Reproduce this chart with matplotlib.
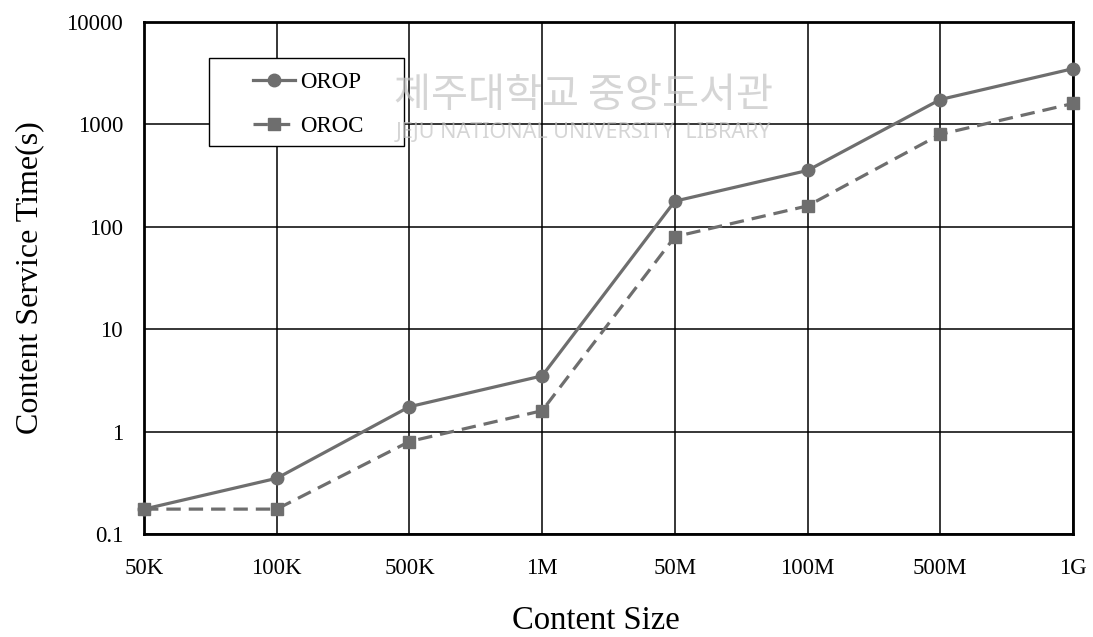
import matplotlib
matplotlib.use("Agg")
import matplotlib.pyplot as plt
from matplotlib.patches import Rectangle

# data
sizes = ["50K", "100K", "500K", "1M", "50M", "100M", "500M", "1G"]
orop = [0.175, 0.35, 1.75, 3.5, 178, 355, 1750, 3500]
oroc = [0.175, 0.175, 0.8, 1.6, 80, 160, 800, 1600]
yticks = [0.1, 1, 10, 100, 1000, 10000]
ytick_labels = ["0.1", "1", "10", "100", "1000", "10000"]

plt.rcParams["font.family"] = ["Liberation Serif", "DejaVu Serif"]

W, H = 1093, 637
fig = plt.figure(figsize=(W / 100, H / 100), dpi=100)
ax = fig.add_axes([144 / W, 1 - 534 / H, 929 / W, 512 / H])

x = list(range(len(sizes)))
line_color = "#6e6e6e"
l1, = ax.plot(x, orop, color=line_color, lw=2.3, marker="o", markersize=9,
              label="OROP", zorder=3, clip_on=False)
l2, = ax.plot(x, oroc, color=line_color, lw=2.3, ls=(0, (4.5, 2.5)),
              marker="s", markersize=8, label="OROC", zorder=3, clip_on=False)

ax.set_yscale("log")
ax.set_ylim(0.1, 10000)
ax.set_xlim(0, len(sizes) - 1)
ax.set_yticks(yticks)
ax.set_yticklabels(ytick_labels)
ax.yaxis.set_minor_locator(matplotlib.ticker.NullLocator())
ax.set_xticks(x)
ax.set_xticklabels(sizes)
ax.tick_params(axis="both", length=0, labelsize=16.5)
ax.tick_params(axis="y", pad=15)
ax.tick_params(axis="x", pad=17)
ax.grid(True, color="black", lw=1.1)
for sp in ax.spines.values():
    sp.set_linewidth(2)

fig.text(30 / W, 1 - 278 / H, "Content Service Time(s)", rotation=90,
         ha="center", va="center", fontsize=23)
fig.text(596 / W, 1 - 621 / H, "Content Size", ha="center",
         va="center", fontsize=23.5)

# legend box (square, black edge)
fig.add_artist(Rectangle((209 / W, 1 - 146 / H), 195 / W, 88 / H,
                         transform=fig.transFigure, facecolor="white",
                         edgecolor="black", lw=1, zorder=4))
leg = fig.legend(handles=[l1, l2], loc="upper left",
                 bbox_to_anchor=(253 / W, 1 - 72 / H), borderaxespad=0,
                 borderpad=0, frameon=False, fontsize=16.5,
                 handlelength=1.85, handletextpad=0.2, labelspacing=1.0)
leg.set_zorder(5)

# library watermark
fig.text(584 / W, 1 - 95 / H, "제주대학교 중앙도서관", ha="center",
         va="center", fontsize=29, color="#c4c4c4", alpha=0.7,
         family=["Noto Sans CJK KR"], zorder=10)
fig.text(584 / W, 1 - 133 / H, "JEJU NATIONAL UNIVERSITY  LIBRARY",
         ha="center", va="center", fontsize=15.5, color="#c4c4c4", alpha=0.7,
         family=["Noto Sans", "DejaVu Sans"], zorder=10)

plt.savefig("out.png", dpi=100)
